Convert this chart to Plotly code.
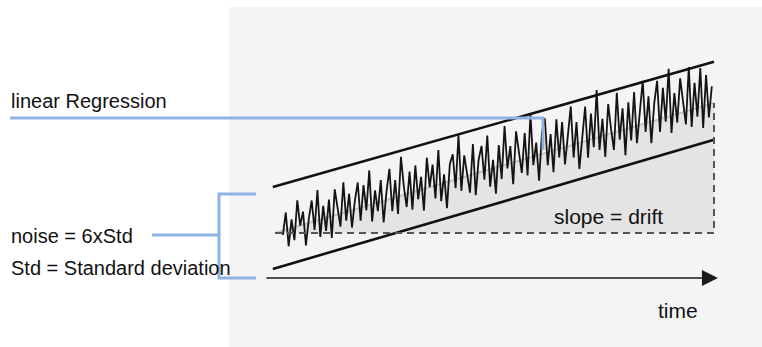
import numpy as np
import plotly.graph_objects as go

# ---------------- data ----------------
time_bounds = [0, 100]            # time span of the drift (arbitrary units)
drift_line = [0.0, 30.0]          # linear regression value at start / end
env_t = [-0.5, 100]               # time span of the noise envelope lines
upper_env = [10.6, 39.5]          # upper envelope (+3 Std)
lower_env = [-8.3, 21.5]          # lower envelope (-3 Std)
base_level = [0.0, 0.0]           # dashed baseline
time_axis_t = [-2.3, 100.9]       # time arrow span
time_axis_level = -10.4
noise_span = [1.8, 99.5]          # time span of the recorded signal
noise_resid = [
    -1, 4, -4, 2, -3, 6, 0, 3, -5, 1, 5, -2, 7, -4, 3, -3, 4, -5, 6, 1,
    -3, 7, -2, 4, -4, 2, 6, -3, 5, -1, 8, -4, 3, -2, 5, -5, 2, 7, -3, 4,
    -4, 9, 2, -3, 5, -4, 6, -2, 3, -5, 7, 0, 5, -3, 8, -4, 2, -6, 4, 6,
    -2, 10, -3, 5, 1, -4, 7, -5, 3, 6, -2, 8, -4, 2, -6, 5, -3, 9, -1, 4,
    -5, 7, 2, -3, 6, -4, 10, -2, 3, -6, 5, 8, -3, 4, -5, 7, -2, 6, -4, 3,
    9, -3, 5, -6, 2, 8, -4, 6, -2, 11, -3, 4, -5, 7, 1, -4, 9, -2, 5, -6,
    6, -3, 8, -4, 3, 10, -2, 6, -5, 4, 9, -3, 7, -1, 11, -4, 5, -2, 8, 3,
    -3, 10, -4, 6, -2, 9, -5, 7, -3, 4,
]
labels = ["linear Regression", "noise = 6xStd", "Std = Standard deviation",
          "slope = drift", "time"]

# ---------------- geometry helpers (page pixel -> data) ----------------
W, H = 762, 347
X0, SX = 275.0, 4.39       # pixel of t=0, pixels per time unit
Y0, SY = 233.0, 4.333      # pixel of level 0, pixels per signal unit


def tx(px):
    return (px - X0) / SX


def ty(py):
    return (Y0 - py) / SY


BLUE = "#8db3e2"
FONT = "Liberation Sans, Arial, sans-serif"

fig = go.Figure()

# shaded drift triangle
fig.add_trace(go.Scatter(
    x=[time_bounds[0], time_bounds[1], time_bounds[1], time_bounds[0]],
    y=[base_level[0], base_level[1], drift_line[1], drift_line[0]],
    fill="toself", fillcolor="#e4e4e4", line=dict(width=0),
    mode="lines", hoverinfo="skip", showlegend=False))

# regression line
fig.add_trace(go.Scatter(x=time_bounds, y=drift_line, mode="lines",
                         line=dict(color="#c4c4c4", width=2),
                         hoverinfo="skip", showlegend=False))

# noisy signal
t_sig = np.linspace(noise_span[0], noise_span[1], len(noise_resid))
sig = np.interp(t_sig, time_bounds, drift_line) + np.array(noise_resid)
fig.add_trace(go.Scatter(x=t_sig, y=sig, mode="lines",
                         line=dict(color="#141414", width=1.8),
                         hoverinfo="skip", showlegend=False))

# envelope lines
for env in (upper_env, lower_env):
    fig.add_trace(go.Scatter(x=env_t, y=env, mode="lines",
                             line=dict(color="#111111", width=2.6),
                             hoverinfo="skip", showlegend=False))

# dashed baseline and vertical drift marker
fig.add_trace(go.Scatter(
    x=[time_bounds[0], time_bounds[1], time_bounds[1]],
    y=[base_level[0], base_level[1], drift_line[1]],
    mode="lines", line=dict(color="#555555", width=2, dash="7px,5px"),
    hoverinfo="skip", showlegend=False))

# time axis arrow
fig.add_annotation(x=time_axis_t[1], y=time_axis_level,
                   ax=time_axis_t[0], ay=time_axis_level,
                   axref="x", ayref="y", xref="x", yref="y",
                   text="", showarrow=True, arrowhead=2, arrowsize=2.0,
                   arrowwidth=1.6, arrowcolor="#1a1a1a")

# blue callout lines (decoration)
callouts = [
    [(10, 118), (543, 118), (543, 150)],
    [(152, 235), (219, 235)],
    [(256, 194), (219, 194), (219, 278), (256, 278)],
]
for pts in callouts:
    fig.add_trace(go.Scatter(x=[tx(p[0]) for p in pts],
                             y=[ty(p[1]) for p in pts],
                             mode="lines", line=dict(color=BLUE, width=3),
                             hoverinfo="skip", showlegend=False))

# text labels
label_pos = [(9, 101, 20), (9, 236, 20), (9, 268, 20), (552, 216, 21), (656, 310, 21)]
for txt, (px, py, fs) in zip(labels, label_pos):
    fig.add_annotation(x=tx(px), y=ty(py), xref="x", yref="y", text=txt,
                       showarrow=False, xanchor="left", yanchor="middle",
                       font=dict(family=FONT, size=fs, color="#111111"))

# grey panel (paper-referenced so it runs to the page edge)
fig.add_shape(type="rect", xref="paper", yref="paper", layer="below",
              x0=229 / W, x1=1.05, y0=-0.05, y1=1 - 7 / H,
              fillcolor="#f4f4f4", line=dict(width=0))

fig.update_layout(
    width=W, height=H, margin=dict(l=0, r=0, t=0, b=0),
    paper_bgcolor="white", plot_bgcolor="rgba(0,0,0,0)", showlegend=False,
    xaxis=dict(range=[tx(0), tx(W)], visible=False, fixedrange=True),
    yaxis=dict(range=[ty(H), ty(0)], visible=False, fixedrange=True),
)

fig.write_html(
    "out.html",
    config={"displayModeBar": False},
    post_script=("document.body.style.margin='0';"
                 "document.body.style.overflow='hidden';"
                 "document.documentElement.style.overflow='hidden';"),
)
